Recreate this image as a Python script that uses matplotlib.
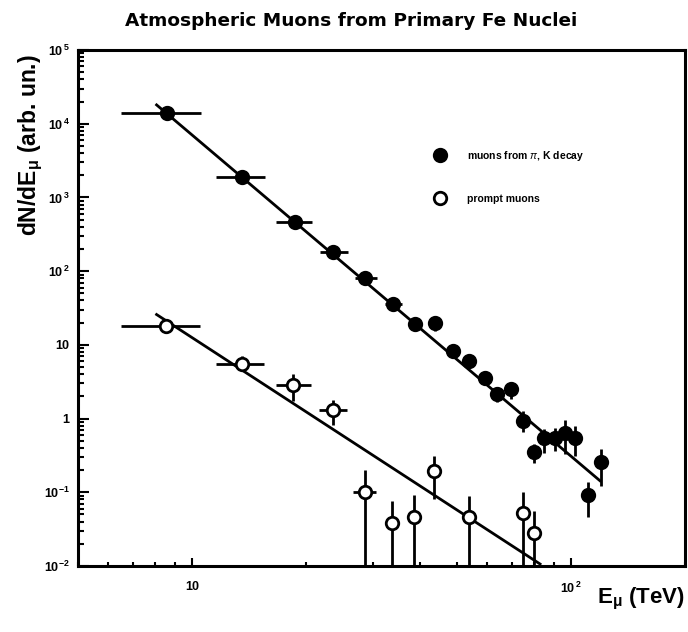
import matplotlib
matplotlib.use("Agg")
import matplotlib.pyplot as plt
import numpy as np
from matplotlib.lines import Line2D
from matplotlib.ticker import FixedLocator, FixedFormatter, LogLocator, NullFormatter

# ---------------- data ----------------
# muons from pi, K decay (filled)
pi_E = [8.57, 13.55, 18.65, 23.56, 28.59, 33.86, 38.8, 43.85, 48.85, 53.74, 59.15,
        63.9, 69.3, 74.9, 79.9, 85.0, 90.7, 96.4, 102.7, 111.2, 120.1]
pi_N = [1.39e4, 1866, 465, 182, 81.1, 36.4, 19.2, 20.0, 8.23, 6.03, 3.51,
        2.13, 2.49, 0.929, 0.353, 0.553, 0.553, 0.646, 0.553, 0.0915, 0.2585]
pi_E_lo = [6.51, 11.56, 16.7, 21.73, 26.9, 32.3, 38.8, 43.85, 48.85, 53.74, 59.15,
           63.9, 69.3, 74.9, 79.9, 85.0, 90.7, 96.4, 102.7, 111.2, 120.1]
pi_E_hi = [10.55, 15.62, 20.77, 25.72, 30.76, 35.85, 38.8, 43.85, 48.85, 53.74, 59.15,
           63.9, 69.3, 74.9, 79.9, 85.0, 90.7, 96.4, 102.7, 111.2, 120.1]
pi_N_lo = [1.39e4, 1866, 465, 182, 81.1, 36.4, 17.5, 15.3, 6.76, 4.95, 2.91,
           1.66, 1.82, 0.658, 0.248, 0.339, 0.364, 0.3286, 0.3116, 0.0461, 0.1223]
pi_N_hi = [1.39e4, 1866, 465, 182, 81.1, 36.4, 21.0, 25.0, 9.83, 7.19, 4.24,
           2.65, 3.10, 1.256, 0.449, 0.716, 0.739, 0.957, 0.794, 0.1373, 0.384]

# prompt muons (open)
pr_E = [8.51, 13.55, 18.45, 23.56, 28.59, 33.65, 38.46, 43.58, 53.74, 74.9, 79.9]
pr_N = [18.3, 5.56, 2.83, 1.295, 0.1014, 0.0382, 0.0461, 0.195, 0.0457, 0.0517, 0.028]
pr_E_lo = [6.51, 11.56, 16.68, 21.63, 26.57, 33.65, 38.46, 43.58, 53.74, 74.9, 79.9]
pr_E_hi = [10.48, 15.5, 20.64, 25.57, 30.58, 33.65, 38.46, 43.58, 53.74, 74.9, 79.9]
pr_N_lo = [18.3, 4.44, 1.73, 0.811, 1e-3, 1e-3, 1e-3, 0.0808, 1e-3, 1e-3, 1e-3]
pr_N_hi = [18.3, 6.98, 3.98, 1.77, 0.201, 0.0766, 0.0915, 0.3116, 0.0896, 0.1015, 0.0561]

# power-law fit lines (end points)
fit_pi_E = [8.06, 119.4]
fit_pi_N = [1.8e4, 0.143]
fit_pr_E = [8.06, 82.9]
fit_pr_N = [25.8, 0.01064]

y_ticks = [1e-2, 1e-1, 1, 10, 1e2, 1e3, 1e4, 1e5]
y_ticklabels = [r'$\mathbf{10^{-2}}$', r'$\mathbf{10^{-1}}$', '1', '10',
                r'$\mathbf{10^{\,2}}$', r'$\mathbf{10^{\,3}}$', r'$\mathbf{10^{\,4}}$',
                r'$\mathbf{10^{\,5}}$']
x_ticks = [10, 100]
x_ticklabels = ['10', r'$\mathbf{10^{\,2}}$']

legend_labels = [r'muons from $\pi$, K decay', 'prompt muons']
title = 'Atmospheric Muons from Primary Fe Nuclei'

# ---------------- figure ----------------
plt.rcParams['font.family'] = ['Liberation Sans', 'DejaVu Sans']
plt.rcParams['mathtext.fontset'] = 'custom'
plt.rcParams['mathtext.rm'] = 'Liberation Sans'
plt.rcParams['mathtext.bf'] = 'Liberation Sans:bold'
plt.rcParams['mathtext.it'] = 'Liberation Sans:italic'

fig = plt.figure(figsize=(6.88, 6.32), dpi=100)
ax = fig.add_axes([0.1134, 0.1044, 0.8822, 0.8165])

ax.plot(fit_pi_E, fit_pi_N, color='black', lw=2.0, zorder=2)
ax.plot(fit_pr_E, fit_pr_N, color='black', lw=2.0, zorder=2)

def draw(E, N, Elo, Ehi, Nlo, Nhi, face):
    E = np.array(E); N = np.array(N)
    xerr = [E - np.array(Elo), np.array(Ehi) - E]
    yerr = [N - np.array(Nlo), np.array(Nhi) - N]
    ax.errorbar(E, N, xerr=xerr, yerr=yerr, fmt='o', color='black', ecolor='black',
                elinewidth=2.0, capsize=0, ms=9, mfc=face, mec='black', mew=2.0,
                zorder=3)

draw(pi_E, pi_N, pi_E_lo, pi_E_hi, pi_N_lo, pi_N_hi, 'black')
draw(pr_E, pr_N, pr_E_lo, pr_E_hi, pr_N_lo, pr_N_hi, 'white')

ax.set_xscale('log')
ax.set_yscale('log')
ax.set_xlim(5, 200)
ax.set_ylim(1e-2, 1e5)

ax.yaxis.set_major_locator(FixedLocator(y_ticks))
ax.yaxis.set_major_formatter(FixedFormatter(y_ticklabels))
ax.yaxis.set_minor_locator(LogLocator(base=10, subs=np.arange(2, 10), numticks=20))
ax.yaxis.set_minor_formatter(NullFormatter())
ax.xaxis.set_major_locator(FixedLocator(x_ticks))
ax.xaxis.set_major_formatter(FixedFormatter(x_ticklabels))
ax.xaxis.set_minor_locator(LogLocator(base=10, subs=np.arange(2, 10), numticks=20))
ax.xaxis.set_minor_formatter(NullFormatter())

ax.tick_params(which='both', direction='in', top=False, right=False, width=1.5, color='black')
ax.tick_params(axis='y', which='major', length=8, pad=6, labelsize=9)
ax.tick_params(axis='y', which='minor', length=4)
ax.tick_params(axis='x', which='major', length=6, pad=11, labelsize=9)
ax.tick_params(axis='x', which='minor', length=3)
for lab in ax.get_xticklabels() + ax.get_yticklabels():
    lab.set_fontweight('bold')
for s in ax.spines.values():
    s.set_linewidth(2.2)

fig.text(0.51, 0.967, title, ha='center', va='center', fontsize=13.3, fontweight='heavy',
         family='DejaVu Sans')
fig.text(0.045, 0.77, r'dN/dE$_{\mathbf{\mu}}$ (arb. un.)', rotation=90, ha='center', va='center',
         fontsize=16.5, fontweight='bold')
fig.text(0.996, 0.052, r'E$_{\mathbf{\mu}}$ (TeV)', ha='right', va='center', fontsize=16,
         fontweight='bold')

handles = [Line2D([], [], marker='o', ls='none', color='black', ms=9, mew=2.0),
           Line2D([], [], marker='o', ls='none', color='black', mfc='white', ms=9, mew=2.0)]
ax.legend(handles, legend_labels, loc='center left', bbox_to_anchor=(0.563, 0.755),
          frameon=False, labelspacing=2.95, handletextpad=1.65,
          prop={'size': 7.5, 'weight': 'bold'})

fig.savefig('out.png', dpi=100)
